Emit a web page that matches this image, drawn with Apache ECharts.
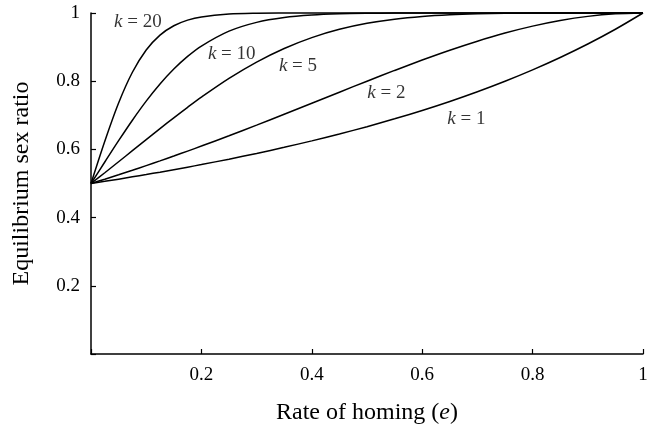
<!DOCTYPE html>
<html>
<head>
<meta charset="utf-8">
<script src="https://cdn.jsdelivr.net/npm/echarts@6/dist/echarts.min.js"></script>
<style>html,body{margin:0;padding:0;background:#fff}#c{width:656px;height:427px}</style>
</head>
<body>
<div id="c"></div>
<script>
// Rate of homing (e)
var homing = [0, 0.025, 0.05, 0.075, 0.1, 0.125, 0.15, 0.175, 0.2, 0.25, 0.3, 0.35, 0.4, 0.45, 0.5, 0.55, 0.6, 0.65, 0.7, 0.75, 0.8, 0.85, 0.9, 0.95, 1];
// Equilibrium sex ratio per k
var k1  = [0.5, 0.5063, 0.5128, 0.5195, 0.5263, 0.5333, 0.5405, 0.5479, 0.5556, 0.5714, 0.5882, 0.6061, 0.625, 0.6452, 0.6667, 0.6897, 0.7143, 0.7407, 0.7692, 0.8, 0.8333, 0.8696, 0.9091, 0.9524, 1];
var k2  = [0.5, 0.5127, 0.5256, 0.5389, 0.5525, 0.5664, 0.5806, 0.595, 0.6098, 0.64, 0.6711, 0.703, 0.7353, 0.7678, 0.8, 0.8316, 0.8621, 0.8909, 0.9174, 0.9412, 0.9615, 0.978, 0.9901, 0.9975, 1];
var k5  = [0.5, 0.5316, 0.5638, 0.5962, 0.6287, 0.661, 0.6927, 0.7235, 0.7532, 0.8082, 0.8561, 0.896, 0.9279, 0.9521, 0.9697, 0.9819, 0.9899, 0.9948, 0.9976, 0.999, 0.9997, 0.9999, 1, 1, 1];
var k10 = [0.5, 0.563, 0.6255, 0.6856, 0.7415, 0.7917, 0.8355, 0.8726, 0.903, 0.9467, 0.9725, 0.9867, 0.994, 0.9975, 0.999, 0.9997, 0.9999, 1, 1, 1, 1, 1, 1, 1, 1];
var k20 = [0.5, 0.624, 0.7361, 0.8262, 0.8916, 0.9353, 0.9627, 0.9791, 0.9886, 0.9968, 0.9992, 0.9998, 1, 1, 1, 1, 1, 1, 1, 1, 1, 1, 1, 1, 1];
var seriesNames = ['20', '10', '5', '2', '1'];
var seriesValues = [k20, k10, k5, k2, k1];
// curve labels: [k, e, ratio]
var curveLabels = [['20', 0.085, 0.975], ['10', 0.255, 0.88], ['5', 0.375, 0.845], ['2', 0.535, 0.765], ['1', 0.68, 0.69]];
var tickValues = [0.2, 0.4, 0.6, 0.8, 1];

var serif = 'Liberation Serif';
function pairs(v){ return homing.map(function(x,i){ return [x, v[i]]; }); }

var series = seriesValues.map(function(v, i){
  return {
    name: 'k = ' + seriesNames[i], type: 'line', data: pairs(v), showSymbol: false,
    smooth: 0.3, clip: false,
    lineStyle: { color: '#000', width: 1.5 }, silent: true
  };
});
series.push({
  type: 'scatter', symbolSize: 0, silent: true,
  data: curveLabels.map(function(l){ return { value: [l[1], l[2]], k: l[0] }; }),
  label: {
    show: true, position: 'inside',
    formatter: function(p){ return '{i|k}{n| = ' + p.data.k + '}'; },
    rich: {
      i: { fontFamily: serif, fontStyle: 'italic', fontSize: 19, color: '#000' },
      n: { fontFamily: serif, fontSize: 19, color: '#000' }
    }
  }
});

var axisCommon = {
  type: 'value', min: 0, max: 1, interval: 0.2,
  axisLine: { show: true, lineStyle: { color: '#000', width: 1.5 } },
  axisTick: { show: true, inside: true, length: 5, lineStyle: { color: '#000', width: 1.2 } },
  splitLine: { show: false },
  axisLabel: {
    color: '#000', fontFamily: serif, fontSize: 19,
    formatter: function(v){ return tickValues.some(function(t){ return Math.abs(t - v) < 1e-9; }) ? String(+v.toFixed(1)) : ''; }
  }
};

var chart = echarts.init(document.getElementById('c'), null, { renderer: 'canvas' });
chart.setOption({
  animation: false,
  backgroundColor: '#fff',
  grid: { left: 91, right: 13, top: 13, bottom: 73, containLabel: false, outerBoundsMode: 'none' },
  xAxis: Object.assign({}, axisCommon, {
    name: '{a|Rate of homing (}{b|e}{a|)}', nameLocation: 'middle', nameGap: 47,
    nameTextStyle: { rich: {
      a: { fontFamily: serif, fontSize: 24, color: '#000' },
      b: { fontFamily: serif, fontSize: 24, fontStyle: 'italic', color: '#000' } } },
    axisLabel: Object.assign({}, axisCommon.axisLabel, { margin: 12 })
  }),
  yAxis: Object.assign({}, axisCommon, {
    name: 'Equilibrium sex ratio', nameLocation: 'middle', nameGap: 57,
    nameTextStyle: { fontFamily: serif, fontSize: 24, color: '#000' },
    axisLabel: Object.assign({}, axisCommon.axisLabel, { margin: 11 })
  }),
  series: series
});
</script>
</body>
</html>
